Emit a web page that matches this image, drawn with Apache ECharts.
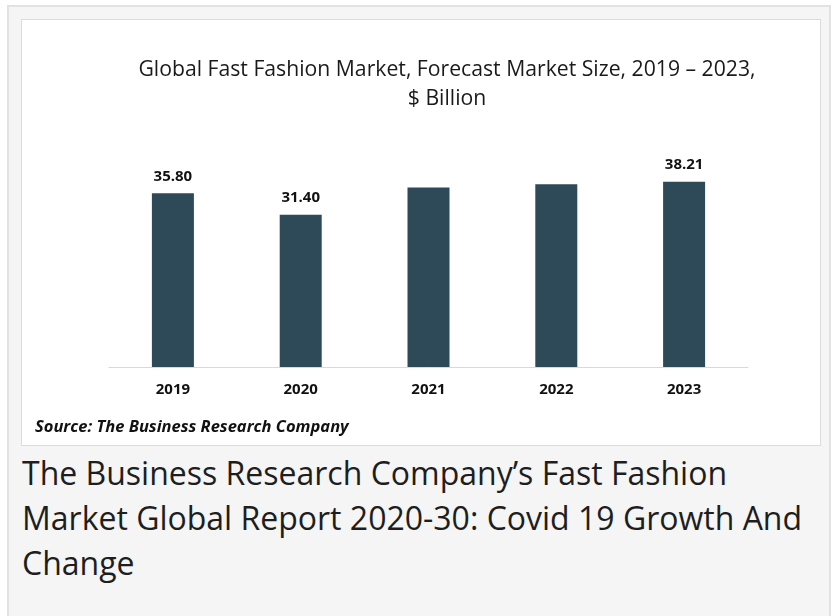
<!DOCTYPE html>
<html lang="en">
<head>
  <meta charset="UTF-8">
  <script src="https://cdn.jsdelivr.net/npm/echarts@6/dist/echarts.min.js"></script>
  <title>Fast Fashion Market</title>
</head>
<body>
  <div id="outer"></div>
  <div id="inner"></div>
  <div id="caption">The Business Research Company’s Fast Fashion<br>Market Global Report 2020-30: Covid 19 Growth And<br>Change</div>
  <div id="chart"></div>
</body>
<style>
  html, body {
    margin: 0;
    padding: 0;
    width: 836px;
    height: 616px;
    overflow: hidden;
    background: #fff;
  }
  #outer {
    position: absolute;
    left: 7px;
    top: 5px;
    width: 820px;
    height: 640px;
    background: #f5f5f5;
    border: 2px solid #e2e2e2;
  }
  #inner {
    position: absolute;
    left: 21px;
    top: 19px;
    width: 798px;
    height: 425px;
    background: #fff;
    border: 1px solid #dcdcdc;
  }
  #caption {
    position: absolute;
    left: 22px;
    top: 450px;
    width: 805px;
    white-space: nowrap;
    font-family: "Open Sans", sans-serif;
    font-size: 32px;
    line-height: 45px;
    color: #1e1e1e;
  }
  #chart {
    position: absolute;
    left: 0;
    top: 0;
    width: 836px;
    height: 616px;
  }
</style>
<script>
const years = ['2019', '2020', '2021', '2022', '2023'];
const marketSize = [35.80, 31.40, 37.0, 37.7, 38.21];
// only these bars carry a value label in the original
const labelled = [true, true, false, false, true];

const chart = echarts.init(document.getElementById('chart'));

const option = {
  animation: false,
  backgroundColor: 'transparent',
  graphic: [
    {
      type: 'text',
      x: 447,
      y: 55,
      style: {
        text: 'Global Fast Fashion Market, Forecast Market Size, 2019 – 2023,\n$ Billion',
        font: '21.2px "Open Sans"',
        lineHeight: 29,
        fill: '#1a1a1a',
        align: 'center',
        verticalAlign: 'top'
      }
    },
    {
      type: 'text',
      x: 35,
      y: 427,
      style: {
        text: 'Source: The Business Research Company',
        font: 'italic bold 16.5px "Open Sans"',
        fill: '#111',
        verticalAlign: 'middle'
      }
    }
  ],
  grid: {
    left: 109,
    right: 88,
    top: 173,
    bottom: 249
  },
  xAxis: {
    type: 'category',
    data: years,
    axisLine: { lineStyle: { color: '#d9d9d9', width: 1 } },
    axisTick: { show: false },
    axisLabel: {
      margin: 15,
      fontFamily: 'Open Sans',
      fontWeight: 'bold',
      fontSize: 15,
      color: '#111'
    }
  },
  yAxis: {
    type: 'value',
    min: 0,
    max: 40,
    show: false
  },
  series: [
    {
      type: 'bar',
      barWidth: 42,
      itemStyle: { color: '#2e4a58' },
      data: marketSize.map((v, i) => ({
        value: v,
        label: {
          show: labelled[i],
          position: 'top',
          distance: 9,
          formatter: (p) => p.value.toFixed(2),
          fontFamily: 'Open Sans',
          fontWeight: 'bold',
          fontSize: 15,
          color: '#111'
        }
      }))
    }
  ]
};

chart.setOption(option);
</script>
</html>
